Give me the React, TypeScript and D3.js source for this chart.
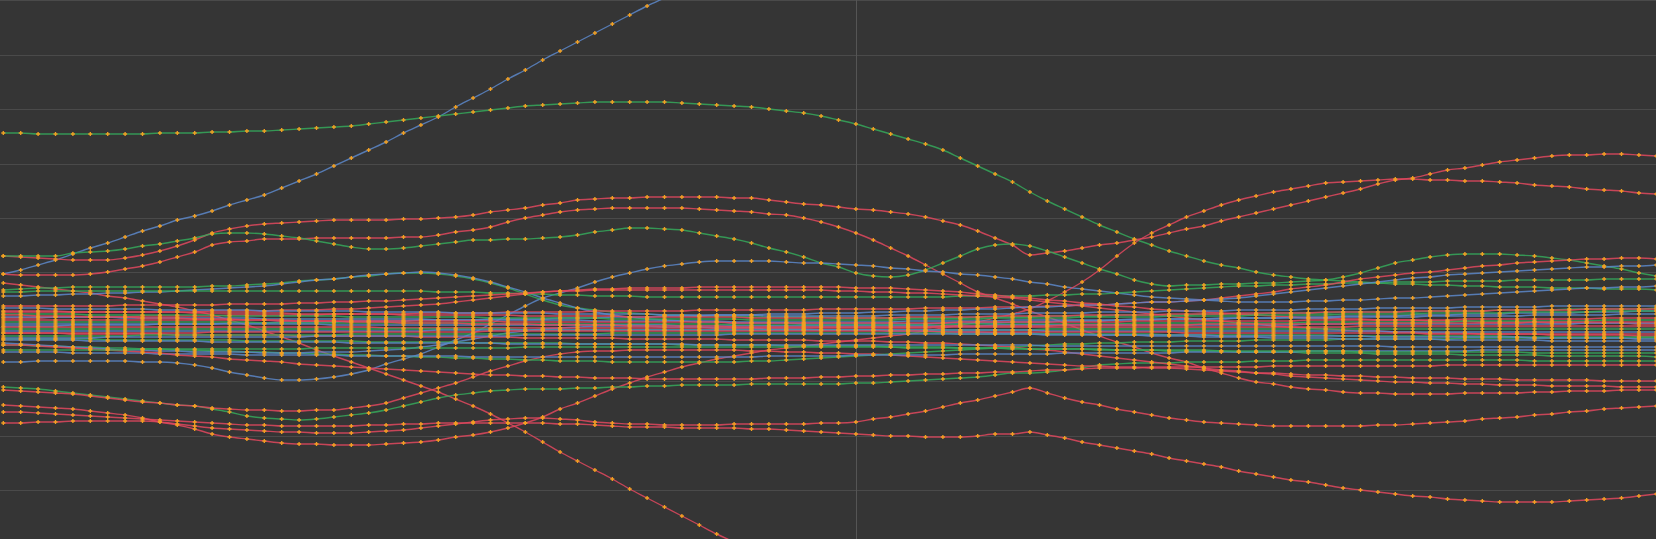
import * as d3 from 'd3';
import { useEffect, useRef } from 'react';

const W = 1656;
const H = 539;

// colours
const BLUE = '#5c87c9';
const GREEN = '#35a85a';
const RED = '#e0485e';
const MARK = '#f2a022';

// x categories are plain indices 0..95, one vertical split line at 49
const xCount = 96;
const xSplit = 49;
// horizontal split lines (value axis)
const yGrid = [0, 54.4, 108.8, 163.2, 217.6, 272, 326.4, 380.8, 435.2, 489.6];

// ---- outer lines ----
const blueSteep = [216,220,225,230,236,242,247,253,259,264,
  270,274,279,285,290,295,302,309,316,324,
  332,340,348,357,365,373,383,392,401,411,
  420,430,439,448,457,466,475,484,492,500,
  508];

const greenTop = [357,357,356,356,356,356,356,356,356,357,
  357,357,358,358,359,359,360,361,362,363,
  364,366,368,370,372,374,376,378,380,382,
  384,385,386,387,388,388,388,388,388,387,
  386,385,384,383,381,379,377,374,370,366,
  361,356,351,346,340,332,324,316,308,298,
  289,281,273,265,258,251,245,239,234,229,
  225,222,218,215,213,211,210,209,208,207,
  206,206,205,205,204,204,203,203,203,202,
  202,202,201,201,201,200];

const redHumpA = [234,233,232,231,230,230,230,232,235,239,
  244,250,257,261,264,266,267,268,269,270,
  270,270,270,271,271,272,273,275,278,280,
  282,285,287,290,291,292,292,293,293,293,
  293,293,292,292,290,288,286,285,283,281,
  280,278,276,273,269,265,259,252,245,235,
  237,239,242,245,247,250,253,257,261,264,
  269,273,277,281,285,289,293,297,301,306,
  310,312,316,320,322,325,328,330,332,334,
  335,335,336,336,335,334];

const redHumpB = [216,215,215,215,215,216,218,221,224,228,
  233,238,245,248,249,251,251,251,252,252,
  252,252,252,253,253,255,258,260,263,268,
  272,275,278,280,281,282,282,282,282,282,
  281,280,279,278,276,275,272,268,263,257,
  250,242,234,225,216,207,198,192,186,179,
  173,167,160,154,148,143,137,132,128,122,
  117,112,108,106,103,101,100,98,97,97,
  96,96,96,96,97,97,97,97,98,98,
  99,99,99,100,100,100];

const greenWave = [234,234,234,234,237,238,239,241,244,246,
  249,252,256,257,257,256,254,252,249,246,
  243,241,241,242,244,246,248,250,250,251,
  251,252,253,255,258,260,262,262,261,260,
  257,254,251,247,242,238,233,227,223,217,
  214,213,215,220,227,234,241,245,246,244,
  239,233,227,221,216,210,206,204,205,205,
  206,206,207,207,208,209,210,213,217,222,
  227,230,233,235,236,236,236,235,234,232,
  230,227,224,221,217,214];

const blueArc = [128,128,129,129,129,129,129,129,128,128,
  127,125,122,118,115,112,110,110,111,113,
  116,120,126,131,136,143,150,157,166,175,
  184,192,197,202,208,213,217,221,224,226,
  228,229,229,229,229,228,227,227,226,225,
  224,222,221,219,218,216,215,213,211,208,
  206,203,201,199,197,195,193,192,191,190,
  189,188,188,188,188,189,189,190,190,191,
  192,192,193,194,195,196,197,198,199,200,
  201,202,202,203,203,204];

const redRise = [85,84,83,82,81,79,77,75,72,68,
  65,61,56,53,51,49,47,46,46,45,
  45,45,46,47,48,50,53,55,58,62,
  67,73,81,87,94,101,107,113,118,123,
  127,131,134,137,140,142,144,146,148,150,
  152,154,156,159,162,165,168,172,176,181,
  189,198,208,220,234,247,257,265,273,279,
  285,290,294,298,301,304,307,308,309,310,
  311,311,310,310,309,309,308,307,305,304,
  303,301,300,299,297,296];

const redDrop = [207,205,203,201,199,197,194,192,189,186,
  183,179,175,170,165,159,153,147,140,134,
  128,122,116,110,104,98,91,84,76,67,
  58,48,38,29,20,11,1,-8,-17,-26,
  -35,-44,-52,-60];

const greenLow = [103,102,101,99,97,95,93,91,89,87,
  85,84,81,78,74,72,71,70,71,73,
  75,77,80,84,88,92,95,97,99,100,
  101,101,101,102,102,103,103,104,104,105,
  105,105,105,106,106,106,106,106,106,107,
  107,108,109,110,111,112,113,115,117,117,
  118,120,122,125,126,127,127,127,128,128,
  128,128,129,129,129,130,130,130,130,130,
  130,130,130,130,130,130,130,130,129,129,
  129,129,129,129,129,129];

const redLowA = [100,99,98,97,96,94,92,90,88,87,
  85,84,82,81,80,80,79,79,80,80,
  82,84,87,92,97,102,107,113,119,124,
  129,133,136,138,139,139,140,140,140,140,
  140,140,140,139,139,138,138,137,137,136,
  136,135,134,133,132,131,130,129,128,127,
  126,125,124,124,123,123,122,122,121,120,
  119,118,117,117,116,115,115,114,114,113,
  113,112,112,112,111,111,111,110,110,110,
  110,110,109,109,109,109];

const redLowB = [67,67,68,68,69,69,69,69,69,68,
  66,64,62,61,60,59,58,58,57,57,
  57,58,59,60,62,64,66,68,70,71,
  72,72,71,70,68,67,66,66,65,65,
  65,65,66,66,66,66,66,67,67,68,
  71,73,76,79,83,87,90,94,98,102,
  97,92,88,85,81,78,75,72,70,68,
  67,66,65,64,64,64,64,64,64,65,
  65,66,67,68,69,71,72,73,75,76,
  78,79,81,82,83,84];

const redLowC = [78,78,77,76,75,74,73,72,71,70,
  69,68,67,66,65,65,64,64,64,64,
  64,65,65,66,66,67,67,67,67,67,
  67,67,66,66,65,64,63,63,63,62,
  62,62,62,61,61,60,59,58,57,56,
  55,54,54,53,53,53,54,56,56,58,
  55,52,48,45,42,39,36,32,29,26,
  23,19,16,13,10,8,5,2,0,-2,
  -4,-6,-7,-9,-10,-11,-12,-12,-12,-12,
  -11,-10,-9,-8,-6,-4];

const greenBump = [200,201,202,202,203,203,203,203,203,203,
  203,203,204,204,205,206,207,209,210,211,
  213,214,216,217,217,216,214,211,207,202,
  196,190,185,182,180,178,177,176,175,175,
  174,174,174,173,173,173,173,173,172,172,
  172,172,172,172,172,172,173,173,173,173,
  174,174,174,174,175,175,175,175,175,176,
  176,176,176,177,177,177,177,178,178,178,
  178,178,179,179,179,179,180,180,180,180,
  181,181,181,181,181,182];

const blueBump = [194,194,195,195,196,196,197,197,198,198,
  199,200,201,202,203,204,206,208,210,211,
  213,215,216,217,218,217,215,212,208,203,
  198,192,187,182,178,175,173,171,170,169,
  168,168,167,167,167,167,166,166,166,166,
  166,166,166,166,167,167,167,167,168,168,
  168,169,169,169,170,170,170,171,171,171,
  172,172,172,172,173,173,173,174,174,174,
  174,175,175,175,176,176,176,177,177,177,
  177,178,178,178,179,179];

const greenFlat = [198,198,199,199,199,199,199,199,199,199,
  199,199,199,199,199,199,199,199,199,199,
  199,199,199,199,199,198,198,198,197,197,
  196,196,195,195,194,194,194,193,193,193,
  193,193,193,193,193,193,193,193,193,193,
  193,193,193,193,193,194,194,194,194,194,
  195,195,196,196,197,198,199,200,201,202,
  203,204,204,205,205,206,206,207,207,207,
  208,208,208,209,209,209,209,210,210,210,
  210,210,211,211,211,211];

const redClimb = [172,172,172,173,173,173,173,173,174,174,
  174,174,174,175,175,175,175,175,175,176,
  176,176,176,176,177,177,177,177,177,178,
  178,178,178,178,179,179,179,179,179,179,
  180,180,180,180,180,180,180,181,181,181,
  181,181,181,182,182,182,182,183,183,183,
  184,184,185,185,186,187,188,188,189,190,
  192,194,196,198,201,203,205,208,211,213,
  215,217,218,220,222,224,225,227,228,229,
  230,231,231,232,232,231];

const blueClimb = [164,164,164,164,165,165,165,165,165,166,
  166,166,166,167,167,167,168,168,168,168,
  169,169,169,169,170,170,170,170,171,171,
  171,171,172,172,172,173,173,173,174,174,
  174,175,175,175,176,176,176,177,177,177,
  178,178,179,179,180,180,181,181,182,183,
  183,184,185,185,186,187,188,188,189,190,
  191,192,194,196,198,200,202,204,206,208,
  210,212,213,215,216,217,218,219,220,221,
  222,223,223,224,224,225];

const redShelfA = [178,178,178,178,178,178,178,178,178,178,
  178,178,179,179,179,179,180,180,180,181,
  181,182,183,184,185,186,188,190,192,194,
  196,198,199,200,201,201,202,202,202,202,
  203,203,203,203,203,203,203,203,203,202,
  202,202,201,200,199,198,196,195,193,192,
  190,189,187,186,184,183,181,180,179,178,
  177,176,175,174,173,172,172,171,171,170,
  170,170,169,169,169,168,168,168,168,167,
  167,167,167,167,166,166];

const redShelfB = [184,184,184,184,184,184,184,185,185,185,
  185,185,185,186,186,186,186,187,187,188,
  188,189,189,190,191,192,193,194,195,196,
  197,198,199,199,200,200,200,200,200,200,
  200,200,200,200,200,200,200,200,199,199,
  198,198,197,197,196,195,194,193,192,190,
  188,186,184,182,180,178,176,174,172,170,
  169,167,166,164,163,162,161,160,159,159,
  158,158,157,157,157,156,156,156,156,155,
  155,155,155,155,154,154];

const greenUnder = [145,145,144,144,143,143,142,142,141,141,
  140,140,139,139,138,138,137,137,136,136,
  135,135,134,134,133,133,132,132,131,131,
  130,130,129,129,129,128,128,128,128,128,
  128,128,128,129,129,130,131,132,133,134,
  135,136,137,138,139,140,141,142,143,144,
  145,146,146,147,147,148,148,148,149,149,
  149,149,150,150,150,150,150,151,151,151,
  151,151,151,151,152,152,152,152,152,152,
  152,152,152,152,152,152];

const blueUnder = [147,146,145,144,143,142,141,140,140,139,
  139,138,138,138,138,137,137,137,138,138,
  138,139,140,141,143,145,148,151,154,157,
  159,161,162,163,164,164,164,164,163,163,
  163,162,162,162,161,161,161,160,160,160,
  160,159,159,159,158,158,158,157,157,157,
  156,156,156,155,155,155,154,154,154,153,
  153,153,153,152,152,152,152,151,151,151,
  151,151,151,150,150,150,150,150,150,149,
  149,149,149,149,149,149];

const redSag = [157,157,157,157,156,156,156,156,156,156,
  155,155,155,155,155,155,155,154,154,154,
  154,154,154,154,153,153,153,153,153,153,
  152,152,152,152,152,152,151,151,151,151,
  151,151,150,150,150,150,150,149,149,149,
  149,148,148,147,147,146,145,144,143,141,
  140,138,136,134,132,130,128,126,124,122,
  120,119,117,116,114,113,112,111,110,109,
  108,108,107,107,106,106,105,105,105,104,
  104,104,104,103,103,103];

const greenSag = [151,151,151,151,151,151,150,150,150,150,
  150,150,150,150,149,149,149,149,149,149,
  149,148,148,148,148,148,148,147,147,147,
  147,147,147,146,146,146,146,146,146,145,
  145,145,145,145,145,144,144,144,144,144,
  144,143,143,143,143,142,142,142,142,141,
  141,141,141,140,140,140,140,139,139,139,
  139,138,138,138,138,137,137,137,137,136,
  136,136,136,136,135,135,135,135,135,134,
  134,134,134,134,134,133];

const blueLower = [138,138,138,138,137,137,137,137,137,136,
  136,136,136,136,135,135,135,135,135,135,
  134,134,134,134,134,134,134,133,133,133,
  133,133,133,133,133,133,133,133,133,133,
  133,133,133,133,134,134,134,134,134,135,
  135,135,135,135,135,136,136,136,136,136,
  136,137,137,137,137,137,137,137,138,138,
  138,138,138,138,138,139,139,139,139,139,
  139,139,139,139,139,140,140,140,140,140,
  140,140,140,140,140,140];

const redLower = [145,145,144,143,142,141,140,139,138,137,
  135,134,133,131,130,129,128,126,125,124,
  123,122,121,120,119,118,117,116,115,115,
  114,114,113,113,112,112,112,111,111,111,
  111,111,111,111,112,112,112,113,113,114,
  114,115,115,116,116,117,117,118,118,119,
  120,120,121,122,122,122,123,123,123,123,
  123,123,123,124,124,124,124,124,124,124,
  124,124,124,125,125,125,125,125,125,125,
  125,125,125,125,125,125];

const greenLower = [140,140,140,140,140,140,140,140,141,141,
  141,141,141,141,141,141,141,141,142,142,
  142,142,142,142,142,142,142,142,142,142,
  143,143,143,143,143,143,143,143,143,143,
  143,143,143,143,143,143,143,143,143,143,
  143,143,142,142,142,142,142,142,141,141,
  141,141,141,141,140,140,140,140,140,140,
  139,139,139,139,139,139,139,139,138,138,
  138,138,138,138,138,138,138,138,137,137,
  137,137,137,137,137,137];

const blueEdge = [150,150,150,150,150,149,149,149,149,149,
  149,149,148,148,148,148,148,148,148,148,
  147,147,147,147,147,147,147,147,147,146,
  146,146,146,146,146,146,146,146,146,146,
  145,145,145,145,145,145,145,145,145,145,
  145,145,145,145,145,145,145,145,145,145,
  144,144,144,144,144,144,144,144,144,144,
  144,144,144,144,144,144,144,144,144,144,
  143,143,143,143,143,143,143,143,143,143,
  143,143,143,143,143,143];

// ---- dense band ----
const band1 = [182,182,182,181,181,181,181,181,181,180,
  180,180,180,180,180,179,179,179,179,179,
  179,178,178,178,178,178,177,177,177,177,
  177,177,176,176,176,176,176,176,175,175,
  175,175,175,175,174,174,174,174,174,174,
  174,175,175,175,175,176,176,176,176,177,
  177,177,177,178,178,178,178,179,179,179,
  179,180,180,180,180,181,181,181,181,182,
  182,182,182,182,183,183,183,183,183,184,
  184,184,184,184,184,184];

const band2 = [179,179,179,179,178,178,178,178,178,178,
  178,177,177,177,177,177,177,176,176,176,
  176,176,176,175,175,175,175,175,175,175,
  174,174,174,174,174,174,173,173,173,173,
  173,173,173,172,172,172,172,172,172,172,
  172,172,173,173,173,173,173,174,174,174,
  174,174,175,175,175,175,175,176,176,176,
  176,177,177,177,177,177,178,178,178,178,
  178,179,179,179,179,179,180,180,180,180,
  180,181,181,181,181,181];

const band3 = [176,176,176,176,176,175,175,175,175,175,
  175,175,175,174,174,174,174,174,174,174,
  173,173,173,173,173,173,173,173,172,172,
  172,172,172,172,172,171,171,171,171,171,
  171,171,171,170,170,170,170,170,170,170,
  170,170,171,171,171,171,171,172,172,172,
  172,172,173,173,173,173,173,174,174,174,
  174,174,175,175,175,175,175,176,176,176,
  176,176,177,177,177,177,177,178,178,178,
  178,178,179,179,179,179];

const band4 = [173,173,173,173,173,173,173,172,172,172,
  172,172,172,172,172,171,171,171,171,171,
  171,171,171,171,171,170,170,170,170,170,
  170,170,170,170,169,169,169,169,169,169,
  169,169,168,168,168,168,168,168,168,168,
  168,168,169,169,169,169,169,169,170,170,
  170,170,170,170,170,171,171,171,171,171,
  171,172,172,172,172,172,172,173,173,173,
  173,173,174,174,174,174,174,174,175,175,
  175,175,175,176,176,176];

const band5 = [170,170,170,170,170,170,170,170,170,170,
  170,170,170,170,170,170,169,169,169,169,
  169,169,169,169,169,169,169,169,169,168,
  168,168,168,168,168,168,168,168,168,168,
  168,168,167,167,167,167,167,167,167,167,
  167,167,167,167,167,168,168,168,168,168,
  168,168,168,168,168,169,169,169,169,169,
  169,169,169,169,169,170,170,170,170,170,
  170,170,170,170,171,171,171,171,171,171,
  171,171,172,172,172,172];

const band6 = [168,168,168,168,168,168,168,168,168,168,
  168,168,168,168,168,167,167,167,167,167,
  167,167,167,167,167,167,167,167,167,166,
  166,166,166,166,166,166,166,166,166,166,
  166,166,165,165,165,165,165,165,165,165,
  165,165,165,165,165,166,166,166,166,166,
  166,166,166,166,166,167,167,167,167,167,
  167,167,167,167,167,168,168,168,168,168,
  168,168,168,168,169,169,169,169,169,169,
  169,169,170,170,170,170];

const band7 = [166,166,166,166,166,166,166,166,166,166,
  166,166,166,166,166,166,166,166,166,165,
  165,165,165,165,165,165,165,165,165,165,
  165,165,165,165,165,165,165,165,165,164,
  164,164,164,164,164,164,164,164,164,164,
  164,164,164,164,164,164,164,165,165,165,
  165,165,165,165,165,165,165,165,165,165,
  165,165,165,165,165,166,166,166,166,166,
  166,166,166,166,166,166,166,166,166,166,
  166,167,167,167,167,167];

const band8 = [163,163,163,163,163,163,163,163,163,163,
  163,163,163,163,163,163,163,163,163,163,
  163,163,162,162,162,162,162,162,162,162,
  162,162,162,162,162,162,162,162,162,162,
  162,162,162,162,162,162,162,162,162,162,
  162,162,162,162,163,163,163,163,163,163,
  163,163,163,163,163,163,163,163,163,163,
  163,163,163,163,163,163,163,163,164,164,
  164,164,164,164,164,164,164,164,164,164,
  164,164,164,164,164,164];

const band9 = [161,161,161,161,161,161,161,161,161,161,
  161,161,161,161,161,161,161,161,161,161,
  161,161,161,161,161,161,161,161,161,161,
  160,160,160,160,160,160,160,160,160,160,
  160,160,160,160,160,160,160,160,160,160,
  160,160,160,160,160,160,160,160,160,160,
  161,161,161,161,161,161,161,161,161,161,
  161,161,161,161,161,161,161,161,161,161,
  161,161,161,161,161,161,161,161,161,161,
  161,161,161,161,161,161];

const band10 = [159,159,159,159,159,159,159,159,159,159,
  159,159,159,159,159,159,159,159,159,159,
  159,159,159,159,159,160,160,160,160,160,
  160,160,160,160,160,160,160,160,160,160,
  160,160,160,160,160,160,160,160,160,160,
  160,160,160,160,160,160,160,160,160,160,
  159,159,159,159,159,159,159,159,159,159,
  159,159,159,159,159,159,159,159,159,159,
  158,158,158,158,158,158,158,158,158,158,
  158,158,158,158,158,158];

const band11 = [157,157,157,157,157,157,157,157,157,157,
  157,157,158,158,158,158,158,158,158,158,
  158,158,158,158,158,158,158,158,159,159,
  159,159,159,159,159,159,159,159,159,159,
  159,159,159,159,159,159,159,159,159,159,
  159,159,159,159,158,158,158,158,158,158,
  158,158,158,158,158,158,158,158,157,157,
  157,157,157,157,157,157,157,157,157,157,
  157,157,156,156,156,156,156,156,156,156,
  156,156,156,156,156,156];

const band12 = [154,154,154,154,154,154,154,154,155,155,
  155,155,155,155,155,155,155,155,155,155,
  156,156,156,156,156,156,156,156,156,156,
  156,156,156,156,156,157,157,157,157,157,
  157,157,157,157,157,157,157,157,157,157,
  157,157,157,157,157,156,156,156,156,156,
  156,156,156,156,156,156,156,155,155,155,
  155,155,155,155,155,155,155,154,154,154,
  154,154,154,154,154,154,154,153,153,153,
  153,153,153,153,153,153];

const band13 = [152,152,152,152,152,152,153,153,153,153,
  153,153,153,153,153,153,153,153,154,154,
  154,154,154,154,154,154,154,154,154,154,
  155,155,155,155,155,155,155,155,155,155,
  155,155,156,156,156,156,156,156,156,156,
  156,156,156,156,156,156,156,156,156,156,
  155,155,155,155,155,155,155,155,155,155,
  154,154,154,154,154,154,154,154,154,153,
  153,153,153,153,153,153,153,153,152,152,
  152,152,152,152,151,151];

const band14 = [175,175,174,174,174,173,173,173,172,172,
  172,171,171,171,170,170,170,169,169,169,
  168,168,168,167,167,167,167,166,166,166,
  166,165,165,165,165,165,164,164,164,164,
  164,164,163,163,163,163,163,163,163,163,
  163,163,163,163,164,164,164,164,164,164,
  164,165,165,165,165,165,165,165,165,166,
  166,166,166,166,166,166,166,166,167,167,
  167,167,167,167,167,167,167,167,168,168,
  168,168,168,168,168,168];

const series = [
  { color: BLUE, values: blueSteep },
  { color: GREEN, values: greenTop },
  { color: RED, values: redHumpA },
  { color: RED, values: redHumpB },
  { color: GREEN, values: greenWave },
  { color: BLUE, values: blueArc },
  { color: RED, values: redRise },
  { color: RED, values: redDrop },
  { color: GREEN, values: greenLow },
  { color: RED, values: redLowA },
  { color: RED, values: redLowB },
  { color: RED, values: redLowC },
  { color: GREEN, values: greenBump },
  { color: BLUE, values: blueBump },
  { color: GREEN, values: greenFlat },
  { color: RED, values: redClimb },
  { color: BLUE, values: blueClimb },
  { color: RED, values: redShelfA },
  { color: RED, values: redShelfB },
  { color: GREEN, values: greenUnder },
  { color: BLUE, values: blueUnder },
  { color: RED, values: redSag },
  { color: GREEN, values: greenSag },
  { color: BLUE, values: blueLower },
  { color: RED, values: redLower },
  { color: GREEN, values: greenLower },
  { color: BLUE, values: blueEdge },
  { color: BLUE, values: band1 },
  { color: RED, values: band2 },
  { color: GREEN, values: band3 },
  { color: BLUE, values: band4 },
  { color: RED, values: band5 },
  { color: GREEN, values: band6 },
  { color: BLUE, values: band7 },
  { color: RED, values: band8 },
  { color: GREEN, values: band9 },
  { color: BLUE, values: band10 },
  { color: RED, values: band11 },
  { color: GREEN, values: band12 },
  { color: BLUE, values: band13 },
  { color: RED, values: band14 },
];

export default function App() {
  const ref = useRef<SVGSVGElement>(null);

  useEffect(() => {
    if (!ref.current) return;
    const svg = d3.select(ref.current);
    svg.selectAll('*').remove();

    const x = d3.scaleLinear().domain([0, xCount - 1]).range([3.3, 1656.3]);
    const y = d3.scaleLinear().domain([-49, 490]).range([H, 0]);

    svg.append('rect').attr('width', W).attr('height', H).attr('fill', '#353535');

    // split lines
    svg.append('g')
      .selectAll('line')
      .data(yGrid)
      .join('line')
      .attr('x1', 0)
      .attr('x2', W)
      .attr('y1', d => Math.round(y(d)) + 0.5)
      .attr('y2', d => Math.round(y(d)) + 0.5)
      .attr('stroke', '#4a4a4a')
      .attr('stroke-width', 1);

    svg.append('line')
      .attr('x1', Math.round(x(xSplit)) + 0.5)
      .attr('x2', Math.round(x(xSplit)) + 0.5)
      .attr('y1', 0)
      .attr('y2', H)
      .attr('stroke', '#555555')
      .attr('stroke-width', 1);

    const line = d3.line<number>()
      .x((_, i) => x(i))
      .y(d => y(d))
      .curve(d3.curveMonotoneX);

    const lines = svg.append('g');
    series.forEach(s => {
      lines.append('path')
        .attr('d', line(s.values))
        .attr('fill', 'none')
        .attr('stroke', s.color)
        .attr('stroke-width', 1.4)
        .attr('stroke-opacity', 0.85);
    });

    // symbols on top of all lines
    const sym = d3.symbol().type(d3.symbolCross).size(9)();
    const marks = svg.append('g');
    series.forEach(s => {
      marks.append('g')
        .selectAll('path')
        .data(s.values)
        .join('path')
        .attr('d', sym)
        .attr('transform', (d, i) => `translate(${x(i)},${y(d)})`)
        .attr('fill', MARK);
    });
  }, []);

  return (
    <>
      <style>{'body{margin:0;background:#353535}'}</style>
      <svg ref={ref} width={W} height={H} style={{ display: 'block' }} />
    </>
  );
}
